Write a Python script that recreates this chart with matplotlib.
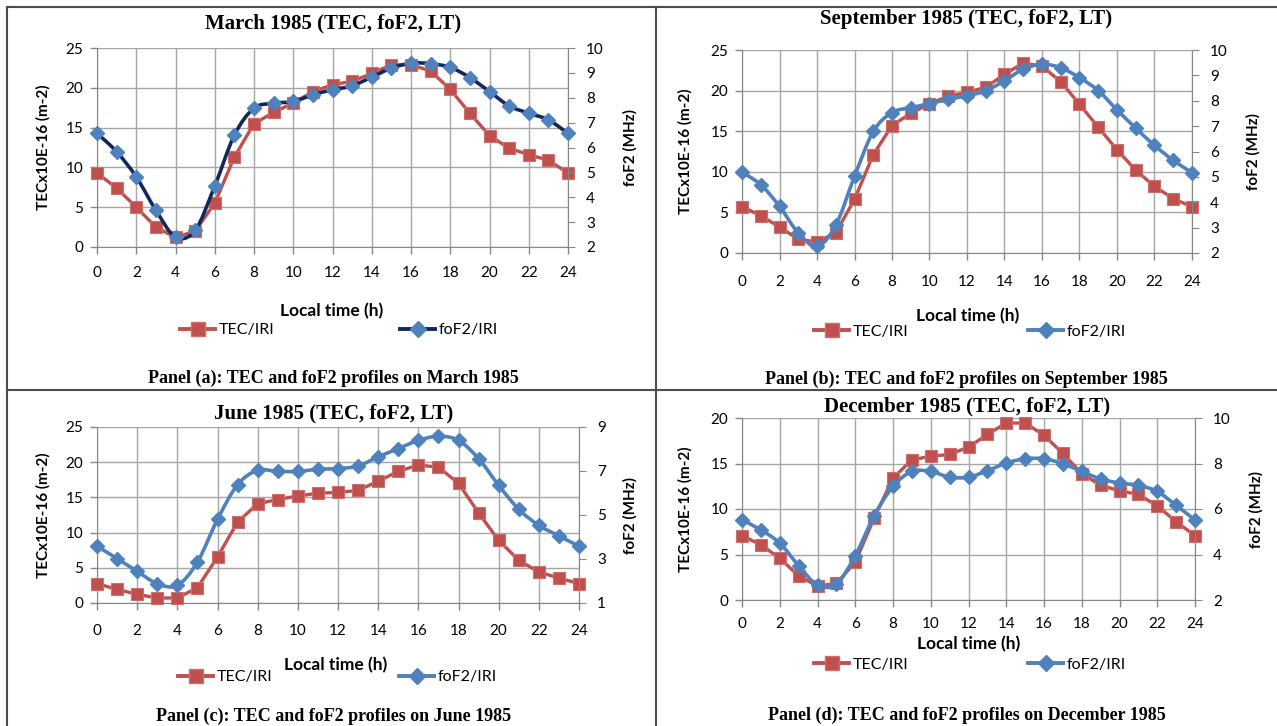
import numpy as np
import matplotlib
matplotlib.use('Agg')
import matplotlib.pyplot as plt
from matplotlib.path import Path
from matplotlib.patches import PathPatch
from matplotlib.lines import Line2D

# local time (h)
hours = list(range(25))

# TEC (x10E16 m-2) and foF2 (MHz)
tec_mar = [9.3, 7.4, 5.0, 2.5, 1.2, 2.0, 5.5, 11.3, 15.5, 16.9, 18.1, 19.5, 20.4,
           20.8, 21.8, 22.9, 22.9, 22.1, 19.8, 16.8, 14.0, 12.4, 11.6, 10.9, 9.3]
fof2_mar = [6.57, 5.83, 4.82, 3.48, 2.40, 2.67, 4.45, 6.50, 7.58, 7.78, 7.85, 8.12, 8.32,
            8.48, 8.83, 9.19, 9.39, 9.37, 9.22, 8.81, 8.25, 7.67, 7.38, 7.11, 6.57]

tec_sep = [5.7, 4.6, 3.2, 1.7, 1.35, 2.5, 6.6, 12.1, 15.7, 17.2, 18.4, 19.3, 19.8,
           20.4, 22.0, 23.4, 23.0, 21.1, 18.3, 15.5, 12.7, 10.2, 8.2, 6.7, 5.7]
fof2_sep = [5.19, 4.69, 3.84, 2.79, 2.26, 3.09, 5.02, 6.79, 7.53, 7.73, 7.88, 8.06, 8.20,
            8.39, 8.79, 9.24, 9.44, 9.30, 8.91, 8.40, 7.64, 6.92, 6.24, 5.65, 5.17]

tec_jun = [2.75, 1.94, 1.23, 0.71, 0.71, 2.18, 6.54, 11.5, 14.1, 14.7, 15.2, 15.6, 15.7,
           16.0, 17.3, 18.7, 19.6, 19.3, 17.0, 12.8, 8.9, 6.07, 4.4, 3.55, 2.75]
fof2_jun = [3.58, 3.02, 2.44, 1.88, 1.80, 2.86, 4.80, 6.38, 7.03, 6.98, 6.98, 7.08, 7.11,
            7.23, 7.64, 8.02, 8.39, 8.58, 8.39, 7.56, 6.35, 5.26, 4.53, 4.05, 3.58]

tec_dec = [7.08, 6.06, 4.59, 2.64, 1.54, 1.83, 4.15, 9.0, 13.4, 15.4, 15.8, 16.0, 16.8,
           18.2, 19.45, 19.45, 18.1, 16.1, 13.9, 12.6, 12.0, 11.6, 10.35, 8.6, 7.08]
fof2_dec = [5.52, 5.08, 4.50, 3.51, 2.66, 2.70, 3.95, 5.70, 6.99, 7.65, 7.65, 7.40, 7.40,
            7.68, 8.02, 8.21, 8.21, 7.99, 7.65, 7.32, 7.14, 7.04, 6.77, 6.16, 5.52]

titles = ['March 1985 (TEC, foF2, LT)', 'September 1985 (TEC, foF2, LT)',
          'June 1985 (TEC, foF2, LT)', 'December 1985 (TEC, foF2, LT)']
captions = ['Panel (a): TEC and foF2 profiles on March 1985',
            'Panel (b): TEC and foF2 profiles on September 1985',
            'Panel (c): TEC and foF2 profiles on June 1985',
            'Panel (d): TEC and foF2 profiles on December 1985']
legend_labels = ['TEC/IRI', 'foF2/IRI']

RED = '#C0504D'
BLUE = '#4F81BD'
NAVY = '#10295A'
GRID = '#A6A6A6'
AXC = '#868686'
SANS = ['Lato', 'DejaVu Sans']
SERIF = ['Liberation Serif', 'DejaVu Serif']

W, H = 1277, 726
fig = plt.figure(figsize=(W / 100, H / 100), dpi=100)


def fx(x):
    return x / W


def fy(y):
    return 1 - y / H


def smooth_path(x, y):
    # excel-like smoothed line: bezier segments through the points
    x = np.asarray(x, float)
    y = np.asarray(y, float)
    n = len(x)
    verts = [(x[0], y[0])]
    codes = [Path.MOVETO]
    for i in range(n - 1):
        i0 = max(i - 1, 0)
        i3 = min(i + 2, n - 1)
        c1 = (x[i] + (x[i + 1] - x[i0]) / 6, y[i] + (y[i + 1] - y[i0]) / 6)
        c2 = (x[i + 1] - (x[i3] - x[i]) / 6, y[i + 1] - (y[i3] - y[i]) / 6)
        verts += [c1, c2, (x[i + 1], y[i + 1])]
        codes += [Path.CURVE4] * 3
    return Path(verts, codes)


# layout of each panel in pixels
panels = [
    dict(tec=tec_mar, fof2=fof2_mar, box=(97, 48, 568, 247), tmax=25, flim=(2, 10), fstep=1,
         fcol=NAVY, cx=333, title_y=23, xpad=9, lt=(332, 311), leg=(180, 400, 330), cap_y=378,
         ylab_x=(43, 630)),
    dict(tec=tec_sep, fof2=fof2_sep, box=(742, 50, 1192, 253), tmax=25, flim=(2, 10), fstep=1,
         fcol=BLUE, cx=966, title_y=19, xpad=11, lt=(968, 316), leg=(814, 1028, 332), cap_y=379,
         ylab_x=(685, 1253)),
    dict(tec=tec_jun, fof2=fof2_jun, box=(97, 427, 579, 603), tmax=25, flim=(1, 9), fstep=2,
         fcol=BLUE, cx=334, title_y=413, xpad=10, lt=(336, 665), leg=(178, 399, 677), cap_y=716,
         ylab_x=(43, 630)),
    dict(tec=tec_dec, fof2=fof2_dec, box=(742, 418, 1195, 600), tmax=20, flim=(2, 10), fstep=2,
         fcol=BLUE, cx=967, title_y=406, xpad=7, lt=(969, 644), leg=(814, 1028, 665), cap_y=715,
         ylab_x=(685, 1256)),
]

for p, title, caption in zip(panels, titles, captions):
    l, t, r, b = p['box']
    ax = fig.add_axes([fx(l), fy(b), (r - l) / W, (b - t) / H])
    ax.set_xlim(0, 24)
    ax.set_ylim(0, p['tmax'])
    ax.set_xticks(range(0, 25, 2))
    ax.set_yticks(range(0, p['tmax'] + 1, 5))
    ax.grid(True, color=GRID, lw=1.0)
    ax.set_axisbelow(True)
    for s in ['top', 'right']:
        ax.spines[s].set_visible(False)
    for s in ['left', 'bottom']:
        ax.spines[s].set_color(AXC)
    ax.tick_params(axis='both', length=5, color=AXC, labelsize=11, width=1)
    ax.tick_params(axis='x', pad=p['xpad'])
    ax.tick_params(axis='y', pad=5)
    for lab in ax.get_xticklabels() + ax.get_yticklabels():
        lab.set_family(SANS)

    ax.plot(hours, p['tec'], color=RED, lw=2.4, marker='s', ms=9,
            mfc=RED, mec='#CF6E6B', mew=0.8, zorder=3, clip_on=False)

    ax2 = ax.twinx()
    ax2.set_ylim(*p['flim'])
    ax2.set_yticks(np.arange(p['flim'][0], p['flim'][1] + 0.01, p['fstep']))
    for s in ['top', 'left', 'bottom']:
        ax2.spines[s].set_visible(False)
    ax2.spines['right'].set_color(AXC)
    ax2.tick_params(axis='y', length=5, color=AXC, labelsize=11, pad=8)
    for lab in ax2.get_yticklabels():
        lab.set_family(SANS)
    ax2.add_patch(PathPatch(smooth_path(hours, p['fof2']), fill=False,
                            ec=p['fcol'], lw=2.6, zorder=3, clip_on=False))
    ax2.plot(hours, p['fof2'], ls='none', marker='D', ms=7.5, mfc=BLUE,
             mec=BLUE, zorder=4, clip_on=False)

    # texts around the axes
    fig.text(fx(p['cx']), fy(p['title_y']), title, family=SERIF, weight='bold',
             size=15, ha='center', va='center')
    fig.text(fx(p['ylab_x'][0]), fy((t + b) / 2), 'TECx10E-16 (m-2)', family=SANS,
             weight='bold', size=11, rotation=90, ha='center', va='center')
    fig.text(fx(p['ylab_x'][1]), fy((t + b) / 2), 'foF2 (MHz)', family=SANS,
             weight='bold', size=11, rotation=90, ha='center', va='center')
    fig.text(fx(p['lt'][0]), fy(p['lt'][1]), 'Local time (h)', family=SANS,
             weight='bold', size=12.5, ha='center', va='center')
    fig.text(fx(p['cx']), fy(p['cap_y']), caption, family=SERIF, weight='bold',
             size=13, ha='center', va='center')

    h_tec = Line2D([], [], color=RED, lw=2.8, marker='s', ms=10, mfc=RED, mec='#CF6E6B')
    h_fof = Line2D([], [], color=p['fcol'], lw=2.8, marker='D', ms=8, mfc=BLUE, mec=BLUE)
    for h, lab, x0 in zip([h_tec, h_fof], legend_labels, p['leg'][:2]):
        fig.legend([h], [lab], loc='center left', bbox_to_anchor=(fx(x0), fy(p['leg'][2])),
                   frameon=False, borderpad=0, borderaxespad=0, handlelength=2.2,
                   handletextpad=0.2, prop={'family': SANS, 'size': 11.5})

# table borders
line_kw = dict(color='#4D4D4D', lw=1.5, transform=fig.transFigure)
fig.add_artist(Line2D([fx(7), 1], [fy(7), fy(7)], **line_kw))
fig.add_artist(Line2D([fx(7), fx(7)], [fy(7), 0], **line_kw))
fig.add_artist(Line2D([fx(656), fx(656)], [fy(7), 0], **line_kw))
fig.add_artist(Line2D([fx(7), 1], [fy(390), fy(390)], **line_kw))

fig.savefig('out.png', dpi=100)
